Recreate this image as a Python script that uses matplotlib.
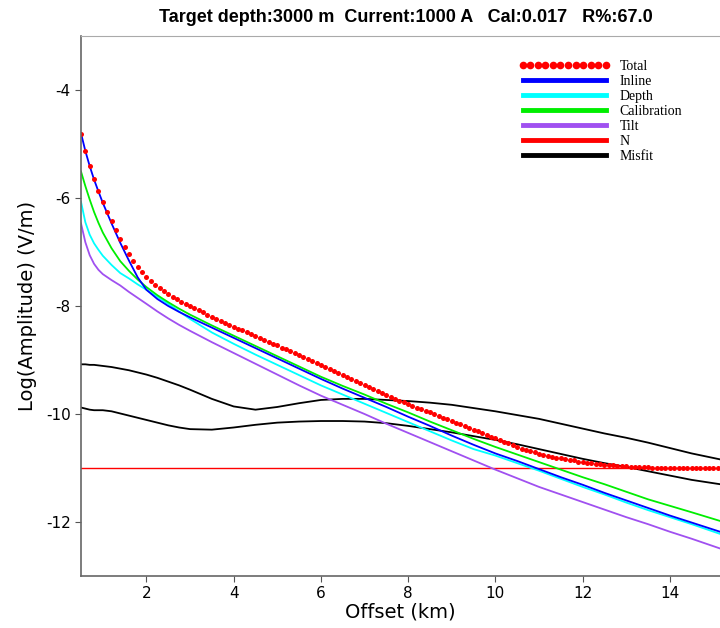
import numpy as np
import matplotlib.pyplot as plt
from matplotlib.lines import Line2D

plt.rcParams['axes.unicode_minus'] = False

offset_km = [0.5, 0.6, 0.7, 0.8, 0.9, 1.0, 1.2, 1.4, 1.6, 1.8, 2.0, 2.25, 2.5, 2.75,
             3.0, 3.5, 4.0, 4.5, 5.0, 5.5, 6.0, 6.5, 7.0, 7.5, 8.0, 8.5, 9.0, 9.5,
             10.0, 10.5, 11.0, 11.5, 12.0, 12.5, 13.0, 13.5, 14.0, 14.5, 15.15]

inline = [-4.80, -5.13, -5.41, -5.66, -5.88, -6.09, -6.47, -6.83, -7.16, -7.47, -7.70,
          -7.87, -8.00, -8.11, -8.21, -8.40, -8.59, -8.78, -8.97, -9.16, -9.35, -9.53,
          -9.70, -9.87, -10.05, -10.22, -10.40, -10.57, -10.73, -10.87, -11.02, -11.17,
          -11.31, -11.46, -11.60, -11.74, -11.88, -12.01, -12.18]

depth = [-6.07, -6.45, -6.68, -6.84, -6.96, -7.07, -7.24, -7.39, -7.49, -7.60, -7.70,
         -7.83, -7.96, -8.10, -8.24, -8.49, -8.70, -8.90, -9.09, -9.28, -9.47, -9.64,
         -9.81, -9.98, -10.15, -10.32, -10.49, -10.65, -10.77, -10.91, -11.05, -11.20,
         -11.35, -11.49, -11.64, -11.78, -11.91, -12.04, -12.22]

calibration = [-5.51, -5.78, -6.03, -6.26, -6.46, -6.64, -6.93, -7.17, -7.35, -7.51, -7.65,
               -7.80, -7.93, -8.05, -8.16, -8.36, -8.55, -8.74, -8.93, -9.12, -9.31, -9.48,
               -9.64, -9.81, -9.97, -10.14, -10.30, -10.46, -10.61, -10.75, -10.89, -11.03,
               -11.17, -11.30, -11.44, -11.58, -11.70, -11.82, -11.98]

tilt = [-6.47, -6.82, -7.06, -7.22, -7.33, -7.41, -7.52, -7.62, -7.74, -7.85, -7.96,
        -8.10, -8.23, -8.35, -8.46, -8.67, -8.87, -9.07, -9.27, -9.47, -9.66, -9.83,
        -10.00, -10.18, -10.35, -10.52, -10.69, -10.86, -11.03, -11.19, -11.35, -11.49,
        -11.63, -11.77, -11.91, -12.04, -12.18, -12.31, -12.49]

misfit_a = [-9.08, -9.08, -9.09, -9.09, -9.10, -9.11, -9.13, -9.16, -9.19, -9.23, -9.27,
            -9.33, -9.40, -9.47, -9.55, -9.72, -9.86, -9.92, -9.87, -9.80, -9.74, -9.72,
            -9.72, -9.74, -9.76, -9.79, -9.83, -9.89, -9.95, -10.02, -10.09, -10.18,
            -10.27, -10.36, -10.44, -10.53, -10.63, -10.73, -10.84]

misfit_b = [-9.88, -9.90, -9.92, -9.93, -9.93, -9.93, -9.95, -9.99, -10.03, -10.07, -10.11,
            -10.16, -10.21, -10.25, -10.28, -10.29, -10.25, -10.20, -10.16, -10.14, -10.13,
            -10.13, -10.14, -10.17, -10.22, -10.28, -10.34, -10.41, -10.48, -10.56, -10.65,
            -10.74, -10.83, -10.91, -10.98, -11.06, -11.14, -11.22, -11.30]

n_level = -11.0

# total response, one dot every 0.1 km from 0.5 km
total = [-4.81, -5.13, -5.40, -5.65, -5.87, -6.07, -6.25, -6.43, -6.59, -6.75,
         -6.90, -7.04, -7.16, -7.27, -7.37, -7.46, -7.54, -7.61, -7.67, -7.73,
         -7.78, -7.83, -7.87, -7.92, -7.96, -8.00, -8.04, -8.08, -8.12, -8.16,
         -8.20, -8.24, -8.28, -8.31, -8.35, -8.38, -8.42, -8.45, -8.49, -8.52,
         -8.56, -8.59, -8.63, -8.66, -8.70, -8.73, -8.77, -8.80, -8.84, -8.87,
         -8.91, -8.95, -8.98, -9.02, -9.06, -9.09, -9.13, -9.17, -9.20, -9.24,
         -9.28, -9.32, -9.35, -9.39, -9.43, -9.46, -9.50, -9.54, -9.57, -9.61,
         -9.65, -9.68, -9.72, -9.75, -9.78, -9.81, -9.85, -9.88, -9.91, -9.94,
         -9.97, -10.00, -10.04, -10.07, -10.10, -10.13, -10.16, -10.19, -10.23, -10.26,
         -10.29, -10.32, -10.35, -10.38, -10.42, -10.45, -10.48, -10.51, -10.54, -10.58,
         -10.61, -10.64, -10.66, -10.69, -10.71, -10.74, -10.76, -10.78, -10.79, -10.81,
         -10.82, -10.84, -10.85, -10.86, -10.88, -10.89, -10.90, -10.91, -10.92, -10.93,
         -10.94, -10.95, -10.95, -10.96, -10.97, -10.97, -10.98, -10.98, -10.99, -10.99,
         -10.99, -11.00, -11.00, -11.00, -11.00, -11.00, -11.00, -11.00, -11.00, -11.00,
         -11.00, -11.00, -11.00, -11.00, -11.00, -11.00, -11.00]
total_x = [round(0.5 + 0.1 * i, 1) for i in range(len(total))]

title = 'Target depth:3000 m  Current:1000 A   Cal:0.017   R%:67.0'

fig = plt.figure(figsize=(7.2, 6.28), dpi=100)
ax = fig.add_axes([81 / 720, 52 / 628, 639 / 720, 540 / 628])

lw = 1.3
ax.plot(offset_km, misfit_a, color='black', lw=lw)
ax.plot(offset_km, misfit_b, color='black', lw=lw)
ax.axhline(n_level, color='#ff0000', lw=1.0)
ax.plot(offset_km, tilt, color='#a050f0', lw=lw)
ax.plot(offset_km, depth, color='#00ffff', lw=lw)
ax.plot(offset_km, calibration, color='#00ee00', lw=lw)
ax.plot(offset_km, inline, color='#0000ff', lw=lw)
ax.plot(total_x, total, ls='none', marker='o', markersize=3.6, color='#ff0000', mec='none')

ax.set_xlim(0.5, 15.15)
ax.set_ylim(-13, -3)
ax.set_xticks([2, 4, 6, 8, 10, 12, 14])
ax.set_yticks([-4, -6, -8, -10, -12])
ax.tick_params(direction='out', length=4, color='#555555', labelsize=11)
ax.spines['right'].set_visible(False)
ax.spines['top'].set_color('#aaaaaa')
for spine in ['left', 'bottom']:
    ax.spines[spine].set_color('#666666')
    ax.spines[spine].set_linewidth(1.2)
ax.set_xlabel('Offset (km)', fontsize=14, labelpad=1)
ax.set_ylabel('Log(Amplitude) (V/m)', fontsize=14, labelpad=6)

handles = [
    Line2D([], [], ls='none', marker='o', markersize=5.5, color='#ff0000', mec='none'),
    Line2D([], [], color='#0000ff', lw=3.5),
    Line2D([], [], color='#00ffff', lw=3.5),
    Line2D([], [], color='#00ee00', lw=3.5),
    Line2D([], [], color='#a050f0', lw=3.5),
    Line2D([], [], color='#ff0000', lw=3.5),
    Line2D([], [], color='black', lw=3.5),
]
labels = ['Total', 'Inline', 'Depth', 'Calibration', 'Tilt', 'N', 'Misfit']
ax.legend(handles, labels, loc='upper left', bbox_to_anchor=(0.665, 0.979),
          frameon=False, numpoints=12, handlelength=6.6, handletextpad=0.7,
          labelspacing=0.15, prop={'family': 'Liberation Serif', 'size': 10})

fig.text(406 / 720, 1 - 17 / 628, title, ha='center', va='center',
         fontsize=13, fontweight='bold', family='Liberation Sans')

fig.savefig('out.png', dpi=100)
